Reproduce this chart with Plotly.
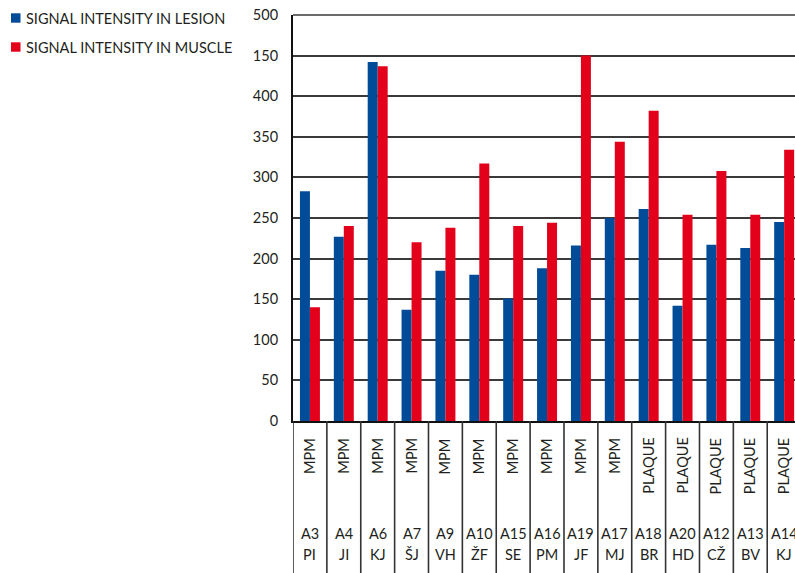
import plotly.graph_objects as go

ids = ["A3", "A4", "A6", "A7", "A9", "A10", "A15", "A16", "A19", "A17", "A18", "A20", "A12", "A13", "A14"]
initials = ["PI", "JI", "KJ", "ŠJ", "VH", "ŽF", "SE", "PM", "JF", "MJ", "BR", "HD", "CŽ", "BV", "KJ"]
types = ["MPM"] * 10 + ["PLAQUE"] * 5
lesion = [283, 227, 442, 137, 185, 180, 151, 188, 216, 250, 261, 142, 217, 213, 245]
muscle = [140, 240, 437, 220, 238, 317, 240, 244, 450, 344, 382, 254, 308, 254, 334]
y_tickvals = [0, 50, 100, 150, 200, 250, 300, 350, 400, 450, 500]
y_ticktext = ["0", "50", "100", "150", "200", "250", "300", "350", "400", "150", "500"]
series_names = ["SIGNAL INTENSITY IN LESION", "SIGNAL INTENSITY IN MUSCLE"]

BLUE = "#004C99"
RED = "#E2001A"
TXT = "#231F20"
FONT = "Lato"

W, H = 795, 573
L, R, T = 293, 0, 15
B = H - 421
PW, PH = W - L - R, H - T - B


def px_x(p):
    return (p - L) / PW


def px_y(p):
    return (H - B - p) / PH


fig = go.Figure()
fig.add_trace(go.Bar(x=ids, y=lesion, name=series_names[0], marker=dict(color=BLUE, line_width=0), showlegend=False))
fig.add_trace(go.Bar(x=ids, y=muscle, name=series_names[1], marker=dict(color=RED, line_width=0), showlegend=False))

shapes = []
annotations = []
# category separators below the axis
for i in range(len(ids) + 1):
    shapes.append(dict(type="line", xref="x", yref="paper", x0=i - 0.5, x1=i - 0.5,
                       y0=0, y1=-0.42, line=dict(color="#333333", width=1.6)))
# top line at 500 (paper-referenced so it is not clipped)
shapes.append(dict(type="line", xref="paper", yref="paper", x0=0, x1=1, y0=1, y1=1,
                   line=dict(color="#3a3a3a", width=1.6)))

for i, c in enumerate(ids):
    annotations.append(dict(x=c, xref="x", yref="paper", y=px_y(436), yanchor="top", xanchor="center",
                            text=types[i], textangle=-90, showarrow=False,
                            font=dict(family=FONT, size=14.5, color=TXT)))
    annotations.append(dict(x=c, xref="x", yref="paper", y=px_y(533), yanchor="middle", xanchor="center",
                            text=c, showarrow=False, font=dict(family=FONT, size=14.5, color=TXT)))
    annotations.append(dict(x=c, xref="x", yref="paper", y=px_y(554), yanchor="middle", xanchor="center",
                            text=initials[i], showarrow=False, font=dict(family=FONT, size=14.5, color=TXT)))

# legend (manual)
for k, (col, name) in enumerate(zip([BLUE, RED], series_names)):
    cy = 18 + 29 * k
    shapes.append(dict(type="rect", xref="paper", yref="paper", x0=px_x(11), x1=px_x(20.5),
                       y0=px_y(cy - 4.7), y1=px_y(cy + 4.7), fillcolor=col, line_width=0))
    annotations.append(dict(x=px_x(24), y=px_y(cy), xref="paper", yref="paper", xanchor="left",
                            yanchor="middle", text=name, showarrow=False,
                            font=dict(family=FONT, size=14.5, color=TXT)))

fig.update_layout(
    width=W, height=H,
    margin=dict(l=L, r=R, t=T, b=B),
    paper_bgcolor="white", plot_bgcolor="white",
    barmode="group", bargap=0.41, bargroupgap=0,
    shapes=shapes, annotations=annotations,
    font=dict(family=FONT, color=TXT, size=14.5),
    xaxis=dict(type="category", range=[-0.5, 14.32], showticklabels=False, ticks="",
               showgrid=False, showline=True, linecolor="#111111", linewidth=2, zeroline=False),
    yaxis=dict(range=[0, 500], tickvals=y_tickvals, ticktext=y_ticktext,
               showgrid=True, gridcolor="#3a3a3a", gridwidth=1.6, zeroline=False,
               showline=True, linecolor="#111111", linewidth=2,
               ticks="outside", ticklen=10, tickcolor="rgba(0,0,0,0)",
               ticklabeloverflow="allow",
               tickfont=dict(family=FONT, size=14.5, color=TXT)),
)

fig.write_html("out.html", config={"displayModeBar": False},
               post_script="document.body.style.margin='0';document.body.style.overflow='hidden';")
